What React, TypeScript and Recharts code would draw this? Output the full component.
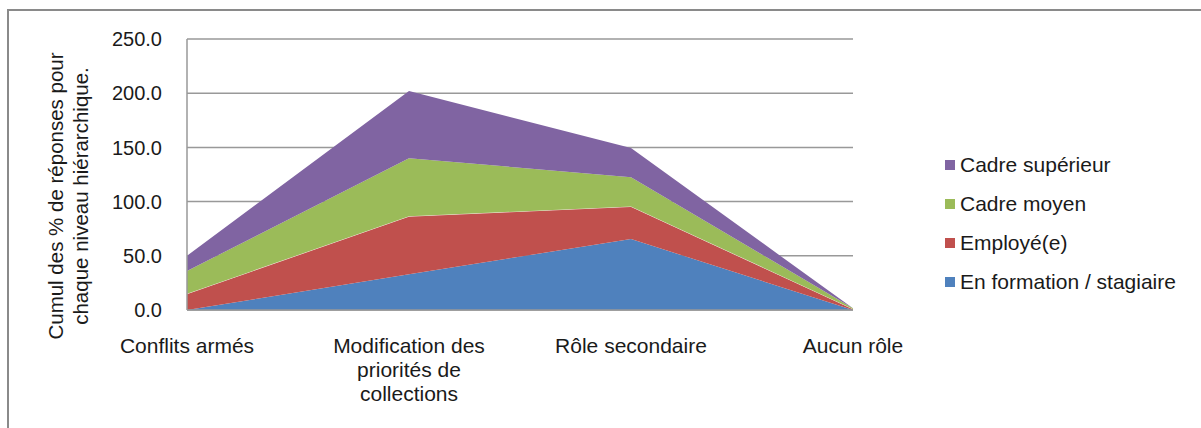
import { AreaChart, Area, XAxis, YAxis, CartesianGrid } from 'recharts'

// Chart data
const categories = ['Conflits armés', 'Modification des\npriorités de\ncollections', 'Rôle secondaire', 'Aucun rôle']
const enFormation = [0, 33, 65.5, 0]
const employe = [15, 53.5, 30, 1]
const cadreMoyen = [21, 53.5, 27, 0.5]
const cadreSuperieur = [14, 62, 27, 0]
const yTicks = [0, 50, 100, 150, 200, 250]

const series = [
    { key: 'enFormation', name: 'En formation / stagiaire', values: enFormation, color: '#4F81BD' },
    { key: 'employe', name: 'Employé(e)', values: employe, color: '#C0504D' },
    { key: 'cadreMoyen', name: 'Cadre moyen', values: cadreMoyen, color: '#9BBB59' },
    { key: 'cadreSuperieur', name: 'Cadre supérieur', values: cadreSuperieur, color: '#8064A2' }
]

const chartData = categories.map((name, i) => {
    const row: Record<string, string | number> = { name }
    series.forEach(s => { row[s.key] = s.values[i] })
    return row
})

const FONT = '"Liberation Sans", Arial, sans-serif'
const TEXT_COLOR = '#1a1a1a'

function CategoryTick({ x, y, payload }: any) {
    const lines = String(payload.value).split('\n')
    return (
        <text x={x} y={y} textAnchor="middle" fontSize={21} fontFamily={FONT} fill={TEXT_COLOR}>
            {lines.map((line, i) => (
                <tspan key={i} x={x} y={y + 35 + i * 24}>{line}</tspan>
            ))}
        </text>
    )
}

function YTitle() {
    return (
        <g fontFamily={FONT} fontSize={20.5} fill={TEXT_COLOR}>
            <text x={55} y={196} transform="rotate(-90, 55, 196)" textAnchor="middle" dominantBaseline="central">
                Cumul des % de réponses pour
            </text>
            <text x={80} y={196} transform="rotate(-90, 80, 196)" textAnchor="middle" dominantBaseline="central">
                chaque niveau hiérarchique.
            </text>
        </g>
    )
}

function LegendBox() {
    const items = [...series].reverse()
    return (
        <div style={{ position: 'absolute', left: 945, top: 145, fontFamily: FONT, fontSize: 21, color: TEXT_COLOR }}>
            {items.map(s => (
                <div key={s.key} style={{ display: 'flex', alignItems: 'center', height: 39 }}>
                    <span style={{ width: 10, height: 10, background: s.color, marginRight: 5, display: 'inline-block' }} />
                    <span>{s.name}</span>
                </div>
            ))}
        </div>
    )
}

export default function App() {
    return (
        <div style={{ position: 'relative', width: 1201, height: 428, background: '#fff', overflow: 'hidden' }}>
            <style>{'body{margin:0;overflow:hidden}'}</style>
            <div
                style={{
                    position: 'absolute',
                    left: 7,
                    top: 9,
                    width: 1200,
                    height: 430,
                    borderTop: '2px solid #8a8a8a',
                    borderLeft: '2px solid #8a8a8a'
                }}
            />
            <div style={{ position: 'absolute', left: 0, top: 0 }}>
                <AreaChart width={1201} height={428} data={chartData} margin={{ top: 39, right: 348, bottom: 0, left: 0 }}>
                    <CartesianGrid vertical={false} stroke="#999999" strokeWidth={1.5} />
                    <XAxis
                        dataKey="name"
                        height={118}
                        axisLine={{ stroke: '#999999', strokeWidth: 1.5 }}
                        tickLine={false}
                        interval={0}
                        tick={<CategoryTick />}
                    />
                    <YAxis
                        width={187}
                        domain={[0, 250]}
                        ticks={yTicks}
                        tickFormatter={(v: number) => v.toFixed(1)}
                        axisLine={{ stroke: '#999999', strokeWidth: 1.5 }}
                        tickLine={false}
                        tickSize={0}
                        tickMargin={25}
                        tick={{ fontSize: 20, fontFamily: FONT, fill: TEXT_COLOR }}
                        label={<YTitle />}
                    />
                    {series.map(s => (
                        <Area
                            key={s.key}
                            type="linear"
                            dataKey={s.key}
                            name={s.name}
                            stackId="1"
                            fill={s.color}
                            fillOpacity={1}
                            stroke={s.key === 'employe' ? '#f4e8e0' : 'none'}
                            strokeWidth={1}
                            isAnimationActive={false}
                        />
                    ))}
                </AreaChart>
            </div>
            <LegendBox />
        </div>
    )
}
